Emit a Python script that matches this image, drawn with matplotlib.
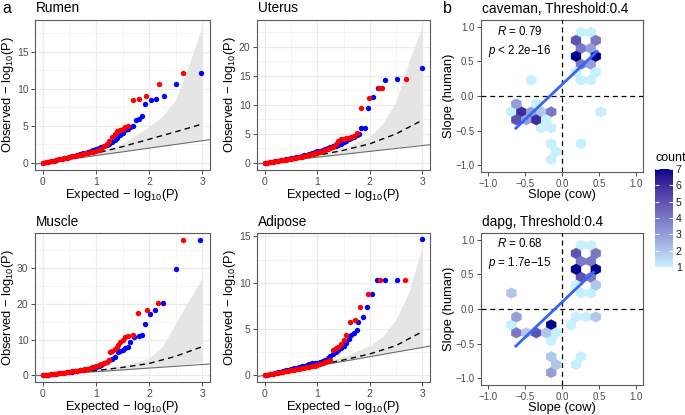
import numpy as np
import matplotlib.pyplot as plt
from matplotlib.colors import LinearSegmentedColormap, to_rgb
from matplotlib.ticker import MultipleLocator

plt.rcParams['font.family'] = ['Liberation Sans', 'DejaVu Sans']
plt.rcParams['mathtext.fontset'] = 'custom'
plt.rcParams['mathtext.rm'] = 'Liberation Sans'
plt.rcParams['mathtext.it'] = 'Liberation Sans:italic'

# ---------------- panel a: QQ plots ----------------
rumen_blue_x = [0, .05, .1, .15, .2, .25, .3, .35, .4, .45, .5, .55, .6, .65, .7, .75, .8, .85, .9, .95, 1.0,
                1.05, 1.1, 1.15, 1.2, 1.25, 1.3, 1.35, 1.4, 1.45, 1.5, 1.55, 1.6, 1.65, 1.7,
                1.75, 1.81, 1.86, 1.92, 2.03, 2.13, 2.28, 2.51, 2.98]
rumen_blue_y = [0, .07, .15, .23, .31, .39, .47, .55, .63, .72, .81, .9, .99, 1.08, 1.18, 1.28, 1.4, 1.52, 1.65, 1.8, 1.95,
                2.05, 2.15, 2.25, 2.4, 2.6, 2.85, 3.1, 3.4, 3.75, 4.1, 4.4, 4.6, 4.8, 4.95,
                5.8, 5.9, 6.3, 7.9, 8.55, 8.65, 9.1, 10.6, 12.15]
rumen_red_x = [0, .05, .1, .15, .2, .25, .3, .35, .4, .45, .5, .55, .6, .65, .7, .75, .8, .85, .9, .95, 1.0,
               1.05, 1.1, 1.15, 1.2, 1.25, 1.3, 1.35, 1.4, 1.45, 1.5, 1.55, 1.6,
               1.70, 1.81, 1.95, 2.18, 2.65]
rumen_red_y = [0, .07, .15, .23, .31, .39, .47, .55, .63, .71, .8, .88, .96, 1.04, 1.12, 1.2, 1.28, 1.36, 1.44, 1.52, 1.6,
               1.75, 1.95, 2.25, 2.6, 3.0, 3.45, 3.85, 4.25, 4.5, 4.65, 4.8, 4.95,
               8.55, 8.7, 9.1, 10.6, 12.15]
rumen_band_x = [0, 0.5, 1, 1.5, 2, 2.25, 2.5, 2.75, 3.0]
rumen_band_lo = [0, 0.5, 1, 1.5, 2.05, 2.3, 2.6, 2.85, 3.1]
rumen_band_hi = [0, 0.7, 1.4, 2.6, 4.9, 6.3, 8.5, 13.2, 18.4]
rumen_dash_x = [0, 0.5, 1, 1.5, 2, 2.5, 3]
rumen_dash_y = [0, 0.6, 1.3, 2.2, 3.2, 4.2, 5.25]

uterus_blue_x = [0, .05, .1, .15, .2, .25, .3, .35, .4, .45, .5, .55, .6, .65, .7, .75, .8, .85, .9, .95, 1.0,
                 1.05, 1.1, 1.15, 1.2, 1.25, 1.3, 1.35, 1.4, 1.45, 1.5, 1.55, 1.6, 1.65, 1.7, 1.75, 1.8,
                 1.84, 1.91, 1.96, 2.06, 2.15, 2.30, 2.53, 3.0]
uterus_blue_y = [0, .07, .15, .23, .31, .39, .47, .55, .63, .71, .8, .89, .98, 1.08, 1.18, 1.3, 1.42, 1.55, 1.7, 1.85, 2.0,
                 2.15, 2.3, 2.45, 2.6, 2.75, 2.85, 2.95, 3.1, 3.3, 3.55, 3.8, 4.05, 4.3, 4.5, 4.75, 5.0,
                 6.0, 6.1, 9.5, 11.3, 12.9, 14.2, 14.4, 16.4]
uterus_red_x = [0, .05, .1, .15, .2, .25, .3, .35, .4, .45, .5, .55, .6, .65, .7, .75, .8, .85, .9, .95, 1.0,
                1.05, 1.1, 1.15, 1.2, 1.25, 1.3, 1.35, 1.4, 1.45, 1.5, 1.55, 1.6, 1.65, 1.7, 1.75,
                1.84, 1.98, 2.18, 2.23, 2.69]
uterus_red_y = [0, .07, .14, .22, .29, .37, .44, .52, .6, .67, .75, .83, .92, 1.01, 1.1, 1.2, 1.3, 1.42, 1.54, 1.66, 1.8,
                1.92, 2.05, 2.2, 2.35, 2.6, 2.8, 3.2, 3.75, 4.05, 4.2, 4.3, 4.35, 4.45, 4.7, 5.2,
                9.5, 11.2, 12.9, 12.9, 14.4]
uterus_band_x = [0, 0.5, 1, 1.5, 2, 2.25, 2.5, 2.75, 3.0]
uterus_band_lo = [0, 0.5, 1, 1.5, 2.1, 2.4, 2.7, 3.0, 3.35]
uterus_band_hi = [0, 0.7, 1.4, 2.6, 4.5, 6.8, 10.5, 17.5, 23.4]
uterus_dash_x = [0, 0.5, 1, 1.5, 2, 2.5, 3]
uterus_dash_y = [0, 0.6, 1.3, 2.2, 3.3, 5.0, 7.35]

muscle_blue_x = [0, .05, .1, .15, .2, .25, .3, .35, .4, .45, .5, .55, .6, .65, .7, .75, .8, .85, .9, .95, 1.0,
                 1.05, 1.1, 1.15, 1.2, 1.25, 1.3, 1.35,
                 1.41, 1.45, 1.5, 1.55, 1.6, 1.65, 1.72, 1.81, 1.86,
                 1.93, 2.02, 2.12, 2.27, 2.5, 2.96]
muscle_blue_y = [0, .09, .18, .27, .36, .45, .54, .63, .73, .83, .93, 1.03, 1.14, 1.26, 1.38, 1.52, 1.66, 1.82, 2.0, 2.2, 2.42,
                 2.7, 3.0, 3.3, 3.7, 4.2, 4.6, 5.0,
                 6.6, 6.8, 7.0, 7.5, 8.0, 9.4, 10.6, 11.0, 11.2,
                 14.3, 17.3, 18.3, 20.3, 29.7, 38]
muscle_red_x = [0, .05, .1, .15, .2, .25, .3, .35, .4, .45, .5, .55, .6, .65, .7, .75, .8, .85, .9, .95, 1.0,
                1.05, 1.1, 1.15, 1.2, 1.25,
                1.27, 1.31, 1.35, 1.39, 1.42, 1.46, 1.5, 1.55, 1.6, 1.69,
                1.8, 1.96, 2.17, 2.65]
muscle_red_y = [0, .09, .18, .27, .36, .45, .55, .65, .75, .85, .95, 1.06, 1.18, 1.3, 1.43, 1.57, 1.72, 1.88, 2.05, 2.3, 2.55,
                2.8, 3.05, 3.35, 3.7, 4.2,
                6.6, 6.8, 7.3, 7.9, 8.4, 9.4, 10.0, 10.6, 10.9, 11.2,
                17.5, 18.3, 20.3, 38]
muscle_band_x = [0, 0.5, 1, 1.5, 2, 2.25, 2.5, 2.75, 3.0]
muscle_band_lo = [0, 0.5, 1, 1.5, 2.1, 2.5, 2.9, 3.2, 3.6]
muscle_band_hi = [0, 0.7, 1.5, 2.7, 4.8, 8.0, 14.5, 21.0, 27.2]
muscle_dash_x = [0, 0.5, 1, 1.5, 2, 2.5, 3]
muscle_dash_y = [0, 0.6, 1.3, 2.2, 3.3, 5.3, 8.0]

adipose_blue_x = [0, .05, .1, .15, .2, .25, .3, .35, .4, .45, .5, .55, .6, .65, .7, .75, .8, .85, .9, .95, 1.0,
                  1.05, 1.1, 1.15, 1.2, 1.25, 1.3, 1.35, 1.4, 1.45, 1.5, 1.55, 1.6, 1.65, 1.7, 1.75,
                  1.77, 1.87, 1.95, 2.04, 2.14, 2.29, 2.52, 3.0]
adipose_blue_y = [0, .06, .12, .18, .24, .31, .38, .45, .52, .59, .66, .73, .8, .87, .95, 1.03, 1.11, 1.19, 1.27, 1.32, 1.37,
                  1.45, 1.55, 1.7, 1.85, 2.05, 2.3, 2.5, 2.7, 2.9, 3.2, 3.5, 3.9, 4.3, 4.6, 4.9,
                  5.7, 6.3, 7.4, 8.75, 10.25, 10.25, 10.3, 14.7]
adipose_red_x = [0, .05, .1, .15, .2, .25, .3, .35, .4, .45, .5, .55, .6, .65, .7, .75, .8, .85, .9, .95, 1.0,
                 1.05, 1.1, 1.15, 1.2, 1.25, 1.3, 1.35, 1.4, 1.45, 1.5, 1.55,
                 1.63, 1.71, 1.82, 1.96, 2.2, 2.67]
adipose_red_y = [0, .05, .1, .15, .2, .26, .31, .36, .42, .47, .52, .58, .63, .69, .75, .81, .87, .93, .99, 1.05, 1.1,
                 1.18, 1.28, 1.4, 1.5, 1.6, 2.7, 2.9, 3.1, 3.4, 3.8, 4.3,
                 5.7, 6.0, 7.4, 8.75, 10.25, 10.25]
adipose_band_x = [0, 0.5, 1, 1.5, 2, 2.25, 2.5, 2.75, 3.0]
adipose_band_lo = [0, 0.5, 1, 1.5, 2.0, 2.3, 2.55, 2.8, 3.07]
adipose_band_hi = [0, 0.65, 1.3, 2.0, 3.2, 4.2, 6.0, 9.0, 13.9]
adipose_dash_x = [0, 0.5, 1, 1.5, 2, 2.5, 3]
adipose_dash_y = [0, 0.55, 1.1, 1.65, 2.3, 3.2, 4.7]

# ---------------- panel b: hexbin of slopes ----------------
caveman_hex_x = [0.26, 0.39, 0.19, 0.46, 0.26, 0.39, 0.19, 0.46, 0.26, 0.39, 0.19, 0.46, 0.26, 0.39, -0.42,
                 -0.62, -0.35, -0.69, -0.55, -0.42, -0.28, -0.15, 0.53,
                 -0.62, -0.49, -0.35, -0.22, -0.28, -0.15, -0.15, 0.26, -0.08, -0.15]
caveman_hex_y = [0.92, 0.92, 0.81, 0.81, 0.69, 0.69, 0.58, 0.58, 0.46, 0.46, 0.35, 0.35, 0.23, 0.23, 0.23,
                 -0.12, -0.12, -0.23, -0.23, -0.23, -0.23, -0.23, -0.23,
                 -0.35, -0.35, -0.35, -0.35, -0.46, -0.46, -0.69, -0.69, -0.81, -0.92]
caveman_hex_n = [1, 1, 5, 4, 4, 3, 7, 7, 4, 3, 1, 1, 1, 1, 1,
                 3, 1, 1, 6, 3, 2, 4, 1,
                 5, 3, 6, 1, 1, 1, 1, 1, 1, 1]
caveman_fit_x = [-0.64, 0.49]
caveman_fit_y = [-0.48, 0.66]

dapg_hex_x = [0.26, 0.39, 0.19, 0.46, 0.26, 0.39, 0.19, 0.46, 0.26, 0.39, 0.19, 0.46, 0.26, 0.39, -0.69,
              -0.62, 0.19, 0.33, 0.46, -0.69, -0.15, 0.12,
              -0.62, -0.49, -0.35, -0.22, -0.08, -0.15, -0.15, 0.26, -0.08, 0.19, -0.15]
dapg_hex_y = [0.92, 0.92, 0.81, 0.81, 0.69, 0.69, 0.58, 0.58, 0.46, 0.46, 0.35, 0.35, 0.23, 0.23, 0.23,
              -0.12, -0.12, -0.12, -0.12, -0.23, -0.23, -0.23,
              -0.35, -0.35, -0.35, -0.35, -0.35, -0.46, -0.69, -0.69, -0.81, -0.81, -0.92]
dapg_hex_n = [1, 1, 5, 4, 4, 4, 7, 7, 5, 4, 1, 2, 1, 1, 2,
              3, 1, 1, 2, 1, 7, 1,
              4, 2, 5, 2, 1, 1, 2, 1, 2, 1, 3]
dapg_fit_x = [-0.64, 0.44]
dapg_fit_y = [-0.55, 0.545]

count_ticks = [1, 2, 3, 4, 5, 6, 7]

W, H = 685, 415


def rect(x0, y0, x1, y1):
    return [x0 / W, 1 - y1 / H, (x1 - x0) / W, (y1 - y0) / H]


# ggplot-like Lab gradient from light cyan to dark blue
_M = np.array([[0.4124, 0.3576, 0.1805], [0.2126, 0.7152, 0.0722], [0.0193, 0.1192, 0.9505]])
_WP = np.array([0.95047, 1.0, 1.08883])


def to_lab(c):
    rgb = np.array(to_rgb(c))
    lin = np.where(rgb > 0.04045, ((rgb + 0.055) / 1.055) ** 2.4, rgb / 12.92)
    xyz = _M @ lin / _WP
    f = np.where(xyz > 0.008856, np.cbrt(xyz), 7.787 * xyz + 16 / 116)
    return np.array([116 * f[1] - 16, 500 * (f[0] - f[1]), 200 * (f[1] - f[2])])


def from_lab(lab):
    fy = (lab[0] + 16) / 116
    f = np.array([fy + lab[1] / 500, fy, fy - lab[2] / 200])
    xyz = np.where(f ** 3 > 0.008856, f ** 3, (f - 16 / 116) / 7.787) * _WP
    lin = np.linalg.solve(_M, xyz)
    lin = np.clip(lin, 0, 1)
    rgb = np.where(lin > 0.0031308, 1.055 * lin ** (1 / 2.4) - 0.055, 12.92 * lin)
    return np.clip(rgb, 0, 1)


lo, hi = to_lab('#C6F0FE'), to_lab('#00008B')
cmap = LinearSegmentedColormap.from_list(
    'hexblue', [from_lab(lo + t * (hi - lo)) for t in np.linspace(0, 1, 64)])

fig = plt.figure(figsize=(6.85, 4.15), dpi=100)

TICK_C = '#4D4D4D'
EDGE_C = '#5A5A5A'


def style_axes(ax, size=7):
    for s in ax.spines.values():
        s.set_color(EDGE_C)
        s.set_linewidth(0.8)
    ax.tick_params(length=2.75, width=0.6, color='#333333', labelsize=size, labelcolor=TICK_C, pad=2)


def qq_panel(px, title, bx, by, rx, ry, band_x, band_lo, band_hi, dash_x, dash_y, ystep, ylim):
    x0, y0, x1, y1 = px
    ax = fig.add_axes(rect(*px))
    ax.set_axisbelow(True)
    ax.fill_between(band_x, band_lo, band_hi, color='#E5E5E5', lw=0, zorder=1)
    ax.axline((0, 0), slope=1, color='#6E6E6E', lw=0.8, zorder=2)
    ax.plot(dash_x, dash_y, color='black', lw=1.0, dashes=(4, 3), zorder=3)
    ax.scatter(bx, by, s=15, color='#0000FF', lw=0, zorder=4)
    ax.scatter(rx, ry, s=15, color='#FF0000', lw=0, zorder=5)
    ax.set_xlim(-0.15, 3.15)
    ax.set_ylim(*ylim)
    ax.set_xticks([0, 1, 2, 3])
    ax.xaxis.set_minor_locator(MultipleLocator(0.5))
    ax.yaxis.set_major_locator(MultipleLocator(ystep))
    ax.yaxis.set_minor_locator(MultipleLocator(ystep / 2))
    ax.tick_params(which='minor', length=0)
    ax.grid(True, which='major', color='#EBEBEB', lw=0.9)
    ax.grid(True, which='minor', color='#F2F2F2', lw=0.5)
    style_axes(ax, 7.5)
    ax.set_xlabel(r'Expected $-$ log$_{10}$(P)', fontsize=9.3)
    ax.set_ylabel(r'Observed $-$ log$_{10}$(P)', fontsize=9.3)
    ax.xaxis.set_label_coords(0.5, -16.5 / (y1 - y0))
    ax.yaxis.set_label_coords(-19 / (x1 - x0), 0.5)
    fig.text((x0 + 1) / W, 1 - (y0 - 7.5) / H, title, fontsize=9.8, va='baseline', ha='left')
    return ax


qq_panel((35, 20, 210, 170), 'Rumen', rumen_blue_x, rumen_blue_y, rumen_red_x, rumen_red_y,
         rumen_band_x, rumen_band_lo, rumen_band_hi, rumen_dash_x, rumen_dash_y, 5, (-0.95, 19.3))
qq_panel((257, 20, 430, 170), 'Uterus', uterus_blue_x, uterus_blue_y, uterus_red_x, uterus_red_y,
         uterus_band_x, uterus_band_lo, uterus_band_hi, uterus_dash_x, uterus_dash_y, 5, (-1.2, 24.6))
qq_panel((35, 233, 210, 382), 'Muscle', muscle_blue_x, muscle_blue_y, muscle_red_x, muscle_red_y,
         muscle_band_x, muscle_band_lo, muscle_band_hi, muscle_dash_x, muscle_dash_y, 10, (-1.9, 39.9))
qq_panel((257, 233, 430, 382), 'Adipose', adipose_blue_x, adipose_blue_y, adipose_red_x, adipose_red_y,
         adipose_band_x, adipose_band_lo, adipose_band_hi, adipose_dash_x, adipose_dash_y, 5, (-0.73, 15.37))


def hex_panel(px, title, hx, hy, hn, fx, fy, r_txt, p_txt, r_y, p_y):
    x0, y0, x1, y1 = px
    ax = fig.add_axes(rect(*px))
    hb = ax.hexbin(hx, hy, C=hn, reduce_C_function=np.sum, gridsize=(16, 10),
                   extent=(-1.0925, 1.0675, -1.15, 1.15), cmap=cmap, vmin=1, vmax=7,
                   linewidths=0.3, edgecolors='face', zorder=2)
    ax.axhline(0, color='black', lw=0.9, ls=(0, (4, 3)), zorder=3)
    ax.axvline(0, color='black', lw=0.9, ls=(0, (4, 3)), zorder=3)
    ax.plot(fx, fy, color='#3366FF', lw=2.0, zorder=4, solid_capstyle='butt')
    ax.text(-0.57, r_y, r_txt, ha='center', va='center', fontsize=8.3)
    ax.text(-0.57, p_y, p_txt, ha='center', va='center', fontsize=8.3)
    ax.set_xlim(-1.1, 1.1)
    ax.set_ylim(-1.1, 1.1)
    ticks = [-1.0, -0.5, 0.0, 0.5, 1.0]
    labels = ['\u22121.0', '\u22120.5', '0.0', '0.5', '1.0']
    ax.set_xticks(ticks)
    ax.set_yticks(ticks)
    ax.set_xticklabels(labels)
    ax.set_yticklabels(labels)
    style_axes(ax, 7)
    ax.set_xlabel('Slope (cow)', fontsize=9.3)
    ax.set_ylabel('Slope (human)', fontsize=9.3)
    ax.xaxis.set_label_coords(0.5, -16.5 / (y1 - y0))
    ax.yaxis.set_label_coords(-26 / (x1 - x0), 0.5)
    fig.text((x0 + 1) / W, 1 - (y0 - 7) / H, title, fontsize=9.8, va='baseline', ha='left')
    return hb


hb = hex_panel((481, 20, 643, 172), 'caveman, Threshold:0.4', caveman_hex_x, caveman_hex_y, caveman_hex_n,
               caveman_fit_x, caveman_fit_y, '$R$ = 0.79', '$p$ < 2.2e\u221216', 0.94, 0.655)
hex_panel((481, 233, 643, 385), 'dapg, Threshold:0.4', dapg_hex_x, dapg_hex_y, dapg_hex_n,
          dapg_fit_x, dapg_fit_y, '$R$ = 0.68', '$p$ = 1.7e\u221215', 0.95, 0.665)

# colour bar
cax = fig.add_axes(rect(655, 169, 673, 267))
cb = fig.colorbar(hb, cax=cax, ticks=count_ticks)
cb.outline.set_visible(False)
cax.yaxis.set_ticks_position('both')
cax.tick_params(direction='in', length=3, width=0.6, color='white', labelsize=7.5, labelcolor='#1A1A1A', pad=2)
cax.tick_params(labelleft=False, labelright=True)
fig.text(655 / W, 1 - 161 / H, 'count', fontsize=9, va='baseline', ha='left')

# panel letters
fig.text(2 / W, 1 - 12.7 / H, 'a', fontsize=11.5, va='baseline', ha='left')
fig.text(443 / W, 1 - 12.7 / H, 'b', fontsize=11.5, va='baseline', ha='left')

fig.savefig('out.png', dpi=100)
